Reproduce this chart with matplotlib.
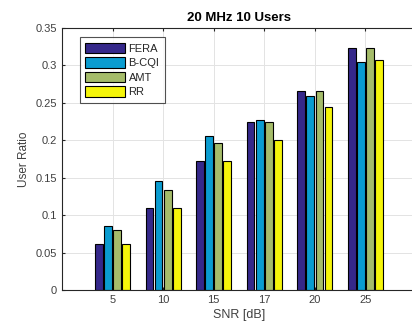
import numpy as np
import matplotlib.pyplot as plt

plt.rcParams['font.family'] = ['Liberation Sans', 'DejaVu Sans']

snr = ['5', '10', '15', '17', '20', '25']
schemes = ['FERA', 'B-CQI', 'AMT', 'RR']
fera = [0.061, 0.110, 0.172, 0.225, 0.266, 0.323]
bcqi = [0.086, 0.146, 0.206, 0.227, 0.259, 0.304]
amt = [0.080, 0.133, 0.197, 0.225, 0.266, 0.323]
rr = [0.061, 0.110, 0.172, 0.200, 0.245, 0.307]
colors = ['#35288A', '#0A9CD0', '#A5BC6A', '#F5F50A']

fig = plt.figure(figsize=(4.12, 3.27), dpi=100)
# axes run a little past the right edge of the figure
ax = fig.add_axes([0.1505, 0.1131, 0.859, 0.8013])

x = np.arange(1, len(snr) + 1)
step = 0.18
width = 0.152
for k, (name, vals) in enumerate(zip(schemes, [fera, bcqi, amt, rr])):
    ax.bar(x + (k - 1.5) * step, vals, width, color=colors[k],
           edgecolor='black', linewidth=0.8, label=name, zorder=2)

ax.set_xlim(0, 7)
ax.set_ylim(0, 0.35)
ax.set_xticks(x)
ax.set_xticklabels(snr)
ax.set_yticks(np.arange(0, 0.351, 0.05))
ax.set_yticklabels(['0', '0.05', '0.1', '0.15', '0.2', '0.25', '0.3', '0.35'])
ax.tick_params(direction='in', length=2.5, labelsize=8, colors='#262626',
               labelcolor='#404040', top=True, right=False)
ax.grid(True, color='#e3e3e3', linewidth=0.7, zorder=0)
ax.set_axisbelow(True)
for s in ax.spines.values():
    s.set_color('#262626')
    s.set_linewidth(0.8)
ax.spines['right'].set_visible(False)

ax.set_xlabel('SNR [dB]', fontsize=9, color='#404040', labelpad=3)
ax.set_ylabel('User Ratio', fontsize=8.5, color='#404040', labelpad=4)
ax.set_title('20 MHz 10 Users', fontsize=9.5, fontweight='bold', pad=5)

leg = ax.legend(loc='upper left', bbox_to_anchor=(0.05, 0.965), fontsize=8,
                frameon=True, fancybox=False, edgecolor='#262626',
                handlelength=3.6, handleheight=1.1, handletextpad=0.3,
                labelspacing=0.3, borderpad=0.5, borderaxespad=0)
leg.get_frame().set_linewidth(0.8)
for t in leg.get_texts():
    t.set_color('#262626')

fig.savefig('out.png', dpi=100)
